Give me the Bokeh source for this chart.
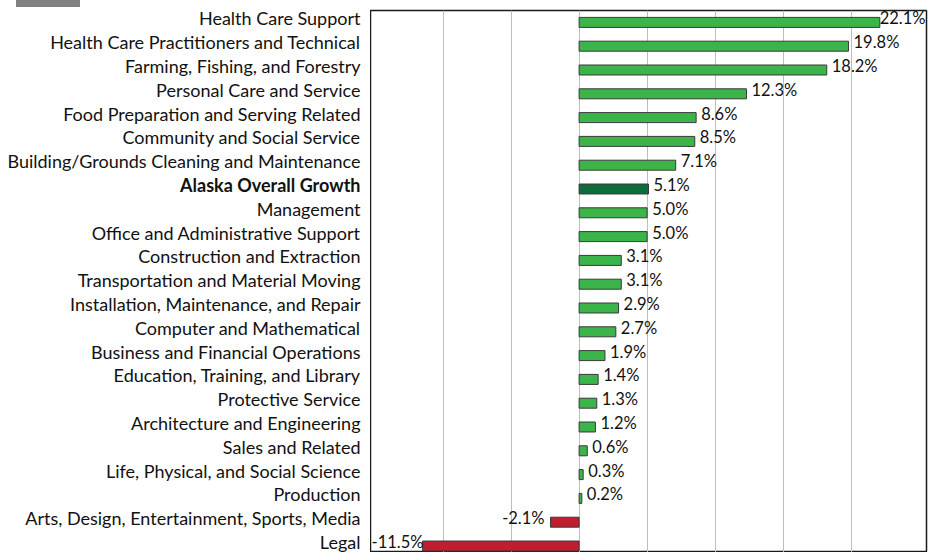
from bokeh.plotting import figure
from bokeh.models import Range1d, FixedTicker, Grid, ColumnDataSource, Div
from bokeh.layouts import row, column
from bokeh.core.properties import value
from bokeh.embed import file_html
from bokeh.resources import INLINE

categories = [
    "Health Care Support",
    "Health Care Practitioners and Technical",
    "Farming, Fishing, and Forestry",
    "Personal Care and Service",
    "Food Preparation and Serving Related",
    "Community and Social Service",
    "Building/Grounds Cleaning and Maintenance",
    "Alaska Overall Growth",
    "Management",
    "Office and Administrative Support",
    "Construction and Extraction",
    "Transportation and Material Moving",
    "Installation, Maintenance, and Repair",
    "Computer and Mathematical",
    "Business and Financial Operations",
    "Education, Training, and Library",
    "Protective Service",
    "Architecture and Engineering",
    "Sales and Related",
    "Life, Physical, and Social Science",
    "Production",
    "Arts, Design, Entertainment, Sports, Media",
    "Legal",
]
growth = [22.1, 19.8, 18.2, 12.3, 8.6, 8.5, 7.1, 5.1, 5.0, 5.0, 3.1, 3.1, 2.9,
          2.7, 1.9, 1.4, 1.3, 1.2, 0.6, 0.3, 0.2, -2.1, -11.5]
overall = "Alaska Overall Growth"
grid_ticks = [-10, -5, 0, 5, 10, 15, 20]

FONT = "Lato"
FS_CAT = "18px"
FS_VAL = "16.5px"
TEXT_DY = -4

# layout (pixels)
H = 552
BAR_H = 7          # grey header strip height
TOP = 3            # gap between strip and plot frame
LEFT_W = 370
FRAME_W = 556
RIGHT_PAD = 10
ROW_PX = 23.8

X0, X1 = -15.33, 25.53
PXU = FRAME_W / (X1 - X0)

FIG_H = H - BAR_H
Y_TOP = -0.5
Y_BOT = Y_TOP + (FIG_H - TOP) / ROW_PX

idx = list(range(len(categories)))
colors = []
for c, v in zip(categories, growth):
    if c == overall:
        colors.append("#0e6b3b")
    elif v >= 0:
        colors.append("#3bb54a")
    else:
        colors.append("#c01e2e")

labels = [f"{v:.1f}%" for v in growth]
lx, lalign, loff = [], [], []
for v, s in zip(growth, labels):
    w = (len(s) * 9.0 + 6) / PXU
    if v >= 0:
        if v + w > X1:
            lx.append(X1); lalign.append("right"); loff.append(-1)
        else:
            lx.append(v); lalign.append("left"); loff.append(5)
    else:
        if v - w < X0:
            lx.append(X0); lalign.append("left"); loff.append(1)
        else:
            lx.append(v); lalign.append("right"); loff.append(-6)

src = ColumnDataSource(dict(y=idx, v=growth, color=colors, lab=labels,
                            lx=lx, align=lalign, off=loff))

cat_src = ColumnDataSource(dict(
    y=idx, name=categories, x=[1.0] * len(categories),
    style=["bold" if c == overall else "normal" for c in categories]))

y_range = Range1d(Y_BOT, Y_TOP)


def strip_grids(fig):
    fig.center = [r for r in fig.center if not isinstance(r, Grid)]


# ---- category label panel ----
lab = figure(width=LEFT_W, height=FIG_H, output_backend="svg", toolbar_location=None,
             x_range=Range1d(0, 1), y_range=y_range,
             x_axis_location=None, y_axis_location=None,
             min_border_top=TOP, min_border_bottom=0, min_border_left=0, min_border_right=0)
lab.outline_line_color = None
strip_grids(lab)
lab.text(x="x", y="y", text="name", x_offset=-10, y_offset=TEXT_DY, text_align="right",
         text_baseline="middle", text_font=value(FONT), text_font_size=FS_CAT,
         text_font_style="style", text_color="#111111", source=cat_src)

# ---- chart panel ----
p = figure(width=FRAME_W + RIGHT_PAD, height=FIG_H, output_backend="svg", toolbar_location=None,
           x_range=Range1d(X0, X1), y_range=y_range,
           x_axis_location=None, y_axis_location=None,
           min_border_top=TOP, min_border_right=RIGHT_PAD,
           min_border_bottom=0, min_border_left=0)
p.outline_line_color = "#1a1a1a"
p.outline_line_width = 1.5
strip_grids(p)
p.add_layout(Grid(dimension=0, ticker=FixedTicker(ticks=grid_ticks),
                  grid_line_color="#bdbdbd", grid_line_width=1))

p.hbar(y="y", left=0, right="v", height=0.42, fill_color="color",
       line_color="#3a3a3a", line_width=1, source=src)

p.text(x="lx", y="y", text="lab", text_align="align", x_offset="off", y_offset=TEXT_DY,
       text_baseline="middle", text_font=value(FONT), text_font_size=FS_VAL,
       text_color="#111111", source=src)

strip = Div(text="", width=64, height=BAR_H, margin=(0, 0, 0, 16),
            styles={"background-color": "#808080"})

layout = column(strip, row(lab, p, spacing=0), spacing=0)
open("out.html", "w").write(file_html(layout, INLINE))
